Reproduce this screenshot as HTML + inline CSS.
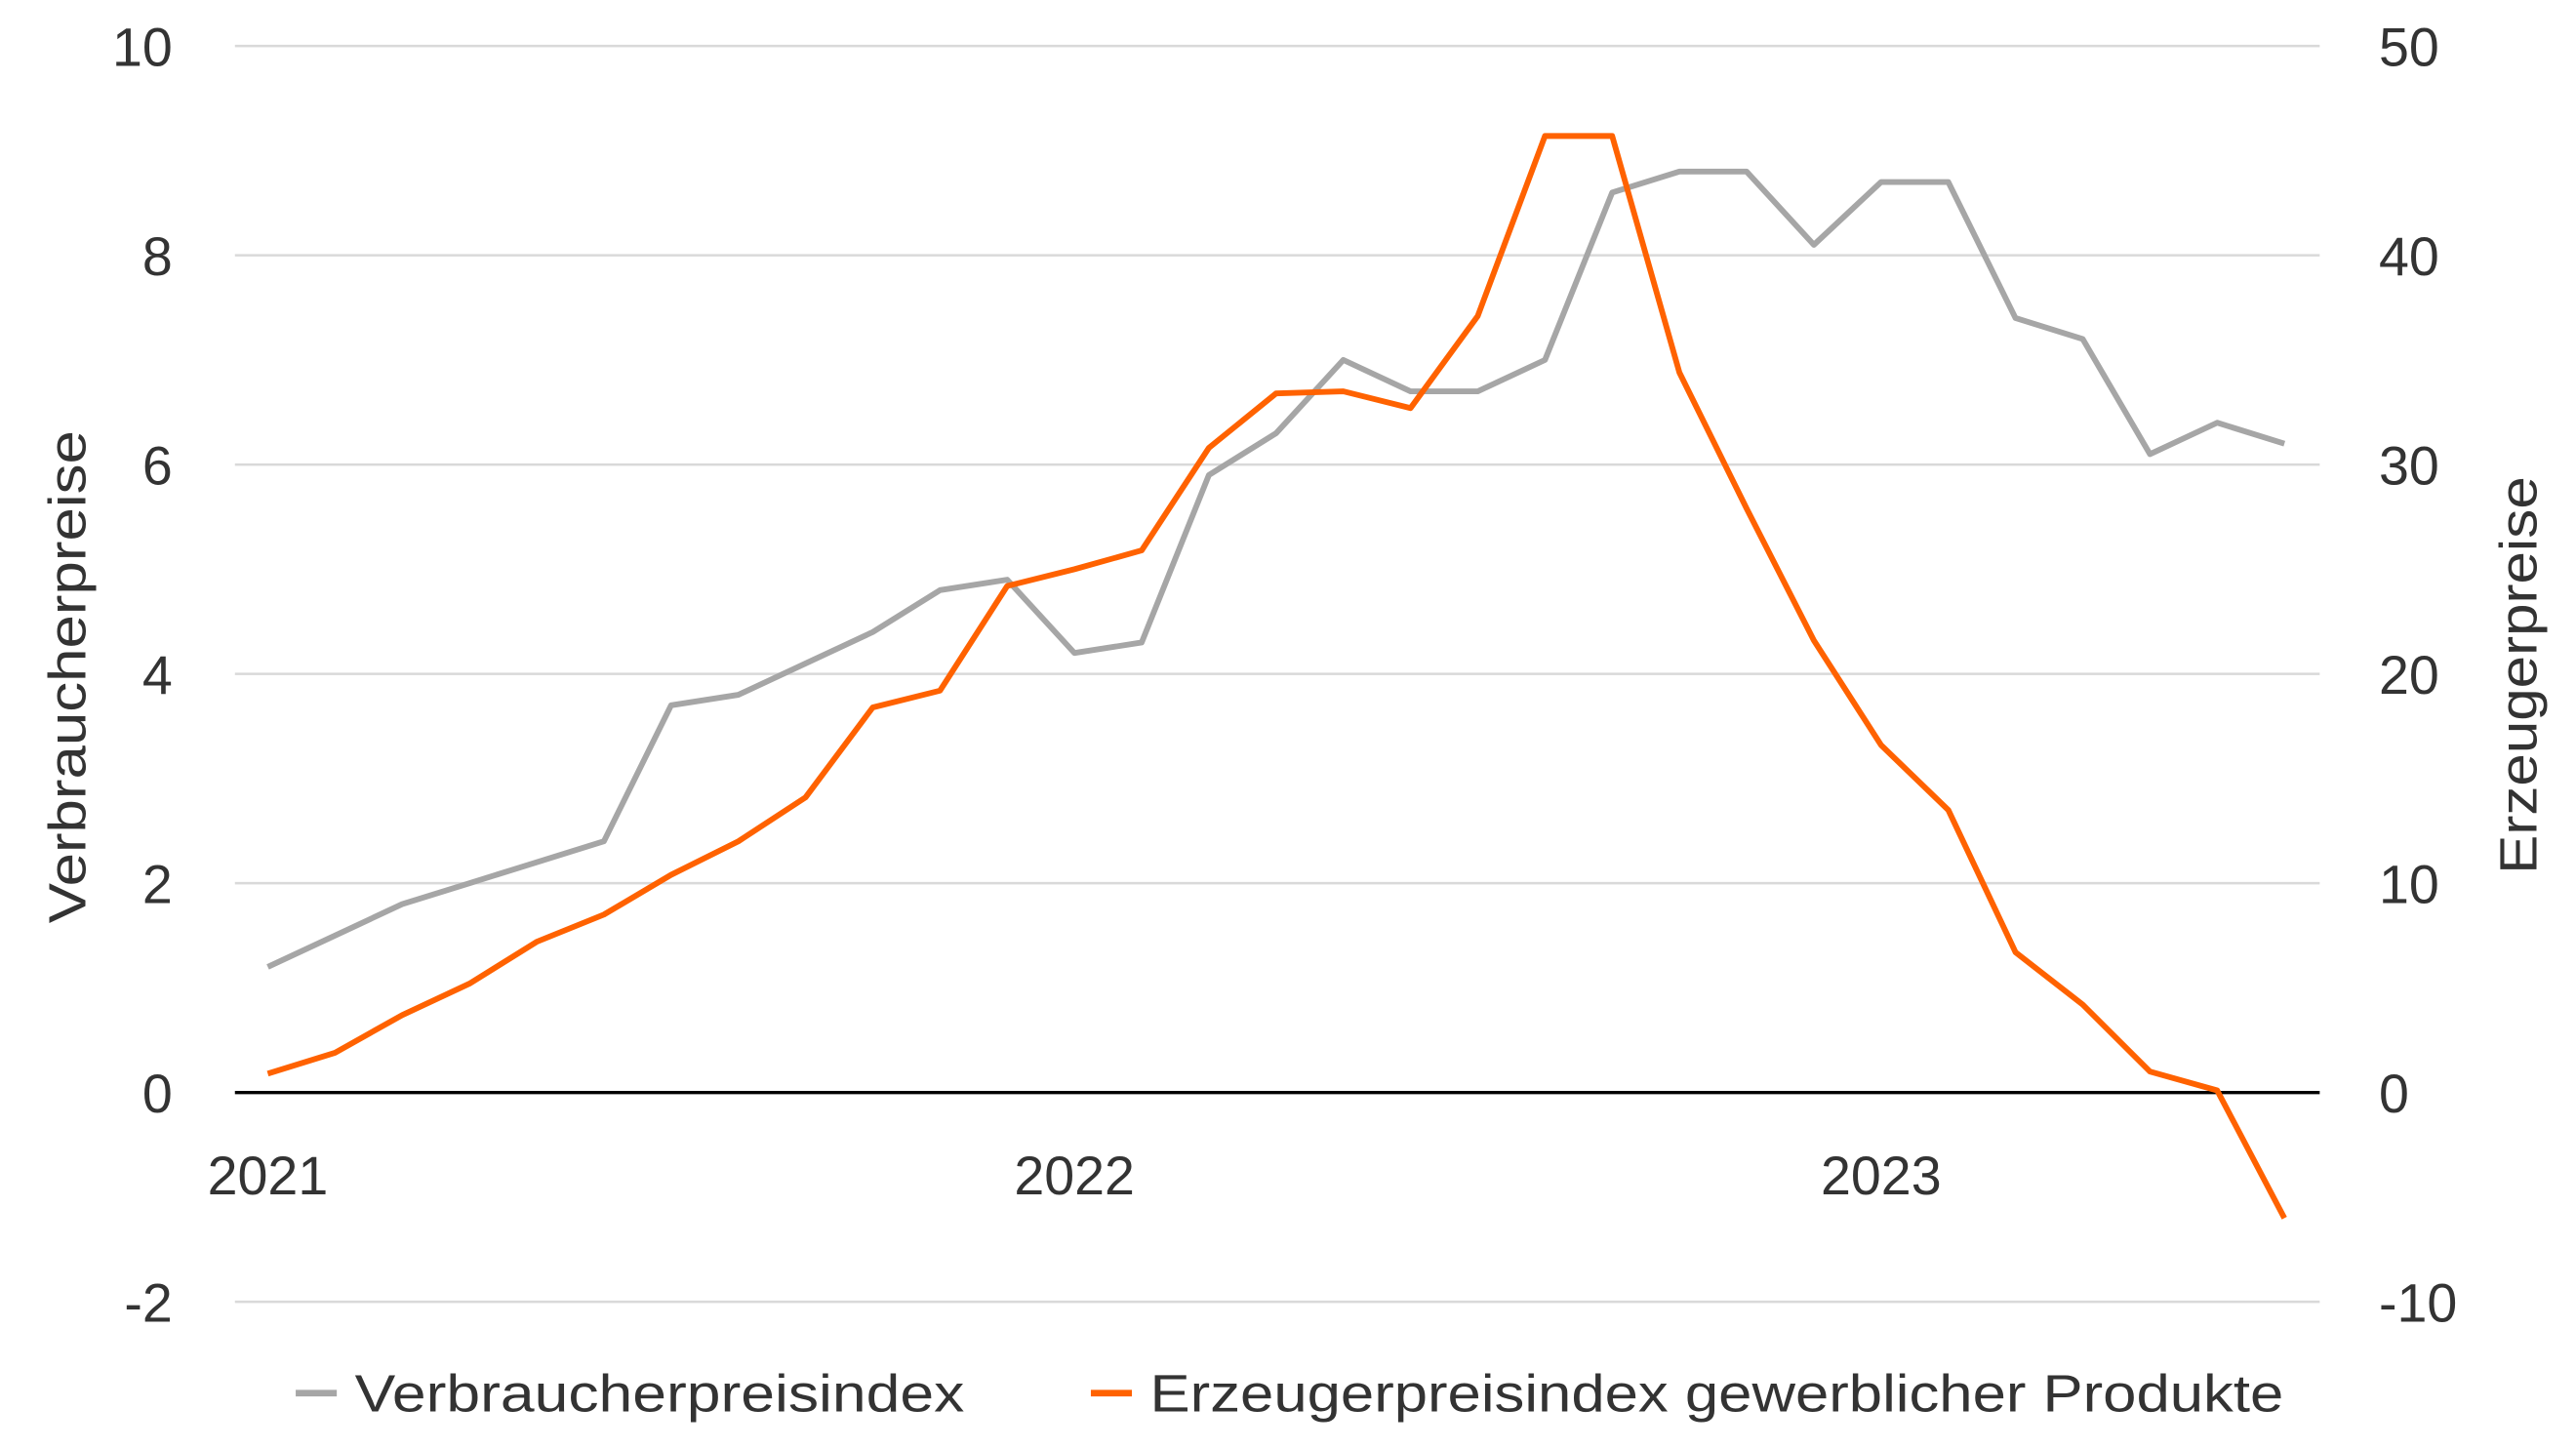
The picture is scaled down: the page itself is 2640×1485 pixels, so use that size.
<!DOCTYPE html>
<html><head><meta charset="utf-8"><style>
html,body{margin:0;padding:0;background:#fff;}
svg{display:block;font-family:"Liberation Sans",sans-serif;}
</style></head><body>
<svg id="chart" width="2640" height="1485" viewBox="0 0 1568 882" preserveAspectRatio="none" xmlns="http://www.w3.org/2000/svg"></svg>
<script>
const leftTicks = [-2, 0, 2, 4, 6, 8, 10];
const rightTicks = [-10, 0, 10, 20, 30, 40, 50];
const yearLabels = ["2021", "2022", "2023"];
const cpiValues = [1.2,1.5,1.8,2.0,2.2,2.4,3.7,3.8,4.1,4.4,4.8,4.9,4.2,4.3,5.9,6.3,7.0,6.7,6.7,7.0,8.6,8.8,8.8,8.1,8.7,8.7,7.4,7.2,6.1,6.4,6.2];
const ppiValues = [0.9,1.9,3.7,5.2,7.2,8.5,10.4,12.0,14.1,18.4,19.2,24.2,25.0,25.9,30.8,33.4,33.5,32.7,37.1,45.7,45.7,34.4,27.9,21.6,16.6,13.5,6.7,4.2,1.0,0.1,-6.0];

const svg = document.getElementById('chart');
const NS = "http://www.w3.org/2000/svg";
const plotL = 143, plotR = 1412, yTop = 28, yZero = 665;
const yL = v => yZero - (yZero - yTop) * v / 10;
const yR = v => yZero - (yZero - yTop) * v / 50;
const xM = i => 163 + i * (491 / 12);

function mk(tag, attrs, text) {
  const e = document.createElementNS(NS, tag);
  for (const k in attrs) e.setAttribute(k, attrs[k]);
  if (text !== undefined) e.textContent = text;
  svg.appendChild(e);
  return e;
}

leftTicks.forEach(t => {
  const g = mk('line', {x1: plotL, x2: plotR, y1: yL(t), y2: yL(t), stroke: t === 0 ? '#000' : '#d9d9d9', 'stroke-width': t === 0 ? 2 : 1.5});
  
  
  const l = mk('text', {x: 105, y: yL(t) + 12, 'text-anchor': 'end', 'font-size': 33, fill: '#333'}, String(t));
  
  
});
rightTicks.forEach(t => {
  const l = mk('text', {x: 1448, y: yR(t) + 12, 'text-anchor': 'start', 'font-size': 33, fill: '#333'}, String(t));
  
  
});
yearLabels.forEach((y, i) => {
  const l = mk('text', {x: xM(i * 12), y: 727, 'text-anchor': 'middle', 'font-size': 33, fill: '#333'}, y);
  
  
});

const t1 = mk('text', {x: 0, y: 0, transform: 'translate(52,412) rotate(-90)', 'text-anchor': 'middle', 'font-size': 32, fill: '#333', textLength: 300, lengthAdjust: 'spacingAndGlyphs'}, 'Verbraucherpreise');


const t2 = mk('text', {x: 0, y: 0, transform: 'translate(1544,411) rotate(-90)', 'text-anchor': 'middle', 'font-size': 32, fill: '#333', textLength: 242, lengthAdjust: 'spacingAndGlyphs'}, 'Erzeugerpreise');



const cpi = mk('polyline', {points: cpiValues.map((v, i) => xM(i) + ',' + yL(v)).join(' '), fill: 'none', stroke: '#a6a6a6', 'stroke-width': 3.5, 'stroke-linejoin': 'round'});


const ppi = mk('polyline', {points: ppiValues.map((v, i) => xM(i) + ',' + yR(v)).join(' '), fill: 'none', stroke: '#ff6200', 'stroke-width': 3.5, 'stroke-linejoin': 'round'});



const lg1 = mk('line', {x1: 180, x2: 205, y1: 848, y2: 848, stroke: '#a6a6a6', 'stroke-width': 4});


const lt1 = mk('text', {x: 216, y: 859, 'font-size': 32, fill: '#333', textLength: 371, lengthAdjust: 'spacingAndGlyphs'}, 'Verbraucherpreisindex');


const lg2 = mk('line', {x1: 664, x2: 689, y1: 848, y2: 848, stroke: '#ff6200', 'stroke-width': 4});


const lt2 = mk('text', {x: 700, y: 859, 'font-size': 32, fill: '#333', textLength: 690, lengthAdjust: 'spacingAndGlyphs'}, 'Erzeugerpreisindex gewerblicher Produkte');


</script>
</body></html>
